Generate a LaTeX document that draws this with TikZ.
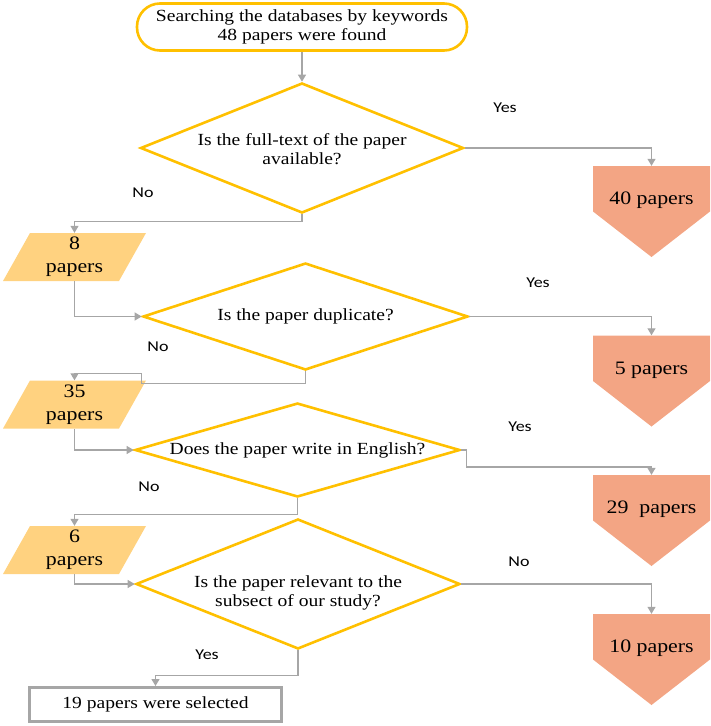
\documentclass[tikz,border=0pt]{standalone}
\usepackage{fontspec}
\setmainfont{Liberation Serif}[FakeStretch=1.15]
\newfontfamily\yesnofont{Carlito}[FakeStretch=1.2]
\usetikzlibrary{shapes.geometric, arrows.meta}
\definecolor{gold}{HTML}{FFC000}
\definecolor{sand}{HTML}{FFD280}
\definecolor{salmon}{HTML}{F3A584}
\definecolor{lgray}{HTML}{A6A6A6}
\tikzset{
  startbox/.style={draw=gold, line width=2.6pt, rounded corners=23pt, minimum width=330pt,
    minimum height=47pt, inner sep=0pt, align=center, font=\fontsize{17}{18.5}\selectfont},
  question/.style={diamond, draw=gold, line width=2.6pt, inner sep=0pt},
  qtext/.style={align=center, inner sep=0pt, font=\fontsize{17}{18.5}\selectfont},
  papers/.style={minimum width=143pt, minimum height=48pt, inner sep=0pt, align=center,
    font=\fontsize{19}{23}\selectfont,
    path picture={\fill[sand] (path picture bounding box.south west)
      -- ([xshift=27pt]path picture bounding box.north west)
      -- (path picture bounding box.north east)
      -- ([xshift=-27pt]path picture bounding box.south east) -- cycle;}},
  removed/.style={minimum width=117pt, minimum height=91pt, inner sep=0pt,
    path picture={\fill[salmon] (path picture bounding box.north west)
      -- (path picture bounding box.north east) -- (path picture bounding box.east)
      -- (path picture bounding box.south) -- (path picture bounding box.west) -- cycle;}},
  rtext/.style={inner sep=0pt, yshift=11pt, font=\fontsize{19}{23}\selectfont},
  selected/.style={draw=lgray, line width=3pt, minimum width=252pt, minimum height=34pt,
    inner sep=0pt, font=\fontsize{17}{18.5}\selectfont},
  answer/.style={inner sep=0pt, font=\yesnofont\fontsize{15}{18}\selectfont},
  link/.style={draw=lgray, line width=1.2pt, -{Triangle[length=7pt,width=8pt]}}
}
\begin{document}
\begin{tikzpicture}[x=1pt, y=-1pt]
\useasboundingbox (0,0) rectangle (710,726);
% Start
    \node[startbox] (start) at (302,27) {Searching the databases by keywords\\48 papers were found};
% Questions
    \node[question, minimum width=323pt, minimum height=130pt,
      label={[qtext, yshift=-1pt]center:{Is the full-text of the paper\\available?}}] (q1) at (302,148) {};
    \node[question, minimum width=325pt, minimum height=107pt,
      label={[qtext]center:{Is the paper duplicate?}}] (q2) at (305.5,316.5) {};
    \node[question, minimum width=325pt, minimum height=94pt,
      label={[qtext]center:{Does the paper write in English?}}] (q3) at (297.5,450) {};
    \node[question, minimum width=324pt, minimum height=130pt,
      label={[qtext, yshift=-9pt]center:{Is the paper relevant to the\\subsect of our study?}}] (q4) at (298,584) {};
% Remaining papers
    \node[papers] (p1) at (74.5,257) {8\\papers};
    \node[papers] (p2) at (74.5,404.5) {35\\papers};
    \node[papers] (p3) at (74.5,550) {6\\papers};
% Removed papers
    \node[removed, label={[rtext]center:40 papers}] (r1) at (651.5,211.5) {};
    \node[removed, label={[rtext]center:5 papers}] (r2) at (651.5,381) {};
    \node[removed, label={[rtext]center:29\ \ papers}] (r3) at (651.5,520.5) {};
    \node[removed, label={[rtext]center:10 papers}] (r4) at (651.5,659.5) {};
% Result
    \node[selected] (final) at (155.5,704.5) {19 papers were selected};
% Answers
    \node[answer] (yes1) at (505,108) {Yes};
    \node[answer] (no1) at (143,193) {No};
    \node[answer] (yes2) at (538,283) {Yes};
    \node[answer] (no2) at (158,347) {No};
    \node[answer] (yes3) at (520,427) {Yes};
    \node[answer] (no3) at (149,487) {No};
    \node[answer] (no4) at (519,562) {No};
    \node[answer] (yes4) at (207,655) {Yes};
% Links
    \draw[link] (start.south) -- (q1.north);
    \draw[link] (q1.east) -| (r1.north);
    \draw[link] (q1.south) -- ++(0,7) -| (p1.north);
    \draw[link] (p1.south) |- (q2.west);
    \draw[link] (q2.east) -| (r2.north);
    \draw[link] (q2.south) -- ++(0,12) -| ([xshift=-5pt]p2.north east) -- ++(0,-7) -| (p2.north);
    \draw[link] (p2.south) |- (q3.west);
    \draw[link] (q3.east) -- ++(5,0) -- ++(0,17) -| (r3.north);
    \draw[link] (q3.south) -- ++(0,16) -| (p3.north);
    \draw[link] (p3.south) |- (q4.west);
    \draw[link] (q4.east) -| (r4.north);
    \draw[link] (q4.south) -- ++(0,25) -| (final.north);
\end{tikzpicture}
\end{document}
